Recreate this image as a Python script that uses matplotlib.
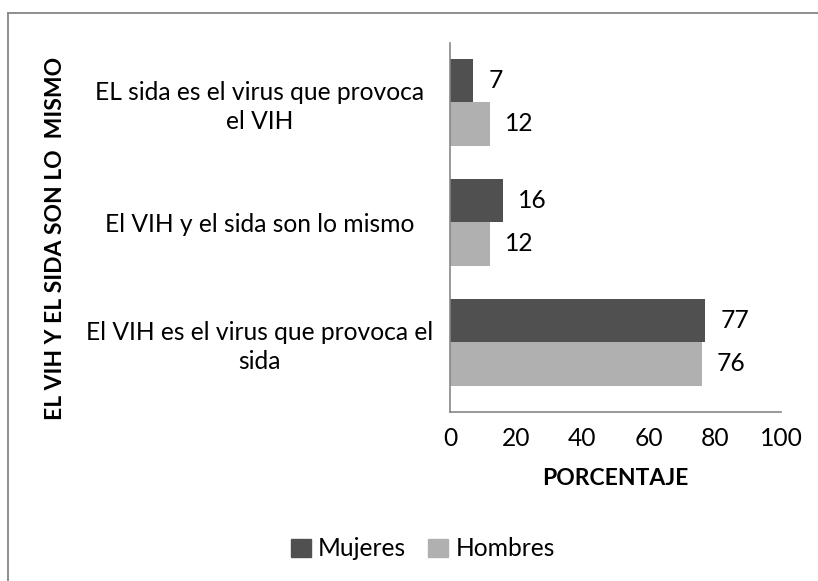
import numpy as np
import matplotlib
matplotlib.use("Agg")
import matplotlib.pyplot as plt
from matplotlib.lines import Line2D
from matplotlib.patches import Patch

plt.rcParams["font.family"] = ["Lato", "DejaVu Sans"]

categorias = [
    "El VIH es el virus que provoca el\nsida",
    "El VIH y el sida son lo mismo",
    "EL sida es el virus que provoca\nel VIH",
]
mujeres = [77, 16, 7]
hombres = [76, 12, 12]
xticks = [0, 20, 40, 60, 80, 100]

c_muj = "#505050"
c_hom = "#b0b0b0"
c_gris = "#868686"
fs = 17.7
fs_bold = 16.5

fig = plt.figure(figsize=(8.18, 5.81), dpi=100)
ax = fig.add_axes([450 / 818, 1 - 412 / 581, 331 / 818, 369 / 581])

y = np.arange(len(categorias))
h = 0.3625
b1 = ax.barh(y + h / 2, mujeres, height=h, color=c_muj, label="Mujeres")
b2 = ax.barh(y - h / 2, hombres, height=h, color=c_hom, label="Hombres")

for bars in (b1, b2):
    for r in bars:
        ax.annotate(f"{r.get_width():g}",
                    (r.get_width(), r.get_y() + r.get_height() / 2),
                    xytext=(11, 0), textcoords="offset points",
                    ha="left", va="center", fontsize=fs)

ax.set_xlim(0, 100)
ax.set_ylim(-0.583, 2.492)
ax.set_xticks(xticks)
ax.set_yticks(y)
ax.set_yticklabels(categorias, ha="center", multialignment="center",
                   linespacing=1.3)
ax.tick_params(axis="x", length=0, pad=11, labelsize=fs)
ax.tick_params(axis="y", length=0, pad=137, labelsize=fs)

for s in ("top", "right"):
    ax.spines[s].set_visible(False)
for s in ("left", "bottom"):
    ax.spines[s].set_color(c_gris)
    ax.spines[s].set_linewidth(1.2)

ax.set_xlabel("PORCENTAJE", fontsize=fs_bold, fontweight="bold", labelpad=13)
fig.text(55 / 818, 1 - 238 / 581, "EL VIH Y EL SIDA SON LO  MISMO",
         rotation=90, ha="center", va="center", fontsize=fs_bold,
         fontweight="bold")

handles = [Patch(color=c_muj), Patch(color=c_hom)]
fig.legend(handles, ["Mujeres", "Hombres"], loc="center",
           bbox_to_anchor=(423 / 818, 1 - 549 / 581), ncol=2, frameon=False,
           fontsize=fs, handlelength=0.8, handleheight=0.8,
           handletextpad=0.3, columnspacing=0.9)

# marco del gráfico
fig.add_artist(Line2D([8 / 818, 8 / 818], [0, 1 - 13 / 581],
                      color=c_gris, lw=1.3, transform=fig.transFigure))
fig.add_artist(Line2D([8 / 818, 1], [1 - 13 / 581, 1 - 13 / 581],
                      color=c_gris, lw=1.3, transform=fig.transFigure))

fig.savefig("out.png", dpi=100)
